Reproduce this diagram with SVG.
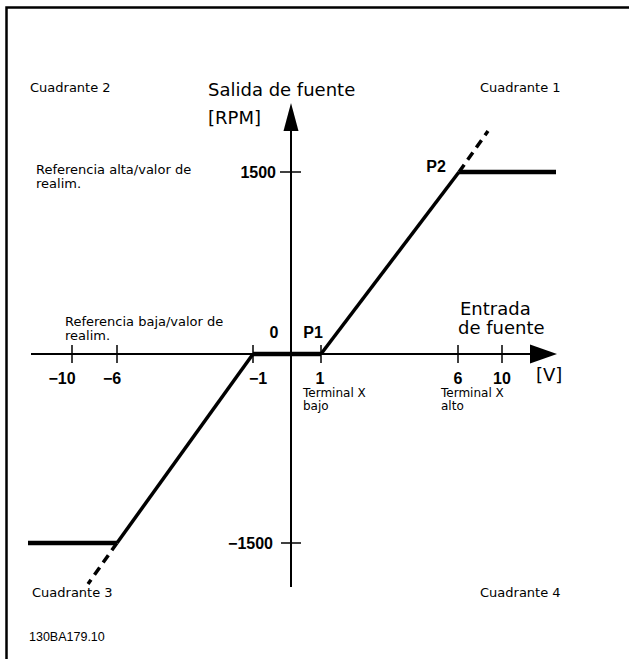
<svg xmlns="http://www.w3.org/2000/svg" width="629" height="659" viewBox="0 0 629 659">
<style>
.lbl{font-family:"DejaVu Sans","Verdana",sans-serif;font-size:13px;fill:#000}
.sm{font-family:"DejaVu Sans","Verdana",sans-serif;font-size:12px;fill:#000}
.big{font-family:"DejaVu Sans","Verdana",sans-serif;font-size:18px;fill:#000}
.num{font-family:"Liberation Sans",Arial,sans-serif;font-weight:bold;font-size:16px;fill:#000}
.pt{font-family:"Liberation Sans",Arial,sans-serif;font-weight:bold;font-size:16px;fill:#000}
.code{font-family:"Liberation Sans",Arial,sans-serif;font-size:12.5px;fill:#000}
.ax{stroke:#000;stroke-width:2;fill:none}
.tk{stroke:#000;stroke-width:1.5;fill:none}
.thick{stroke:#000;stroke-width:4.5;fill:none}
.slope{stroke:#000;stroke-width:3.5;fill:none}
.dash{stroke:#000;stroke-width:3.5;fill:none;stroke-dasharray:9 6}
</style>
<rect width="629" height="659" fill="#fff"/>
<g id="frame"><path d="M6.5 659 V7.5 H629" stroke="#000" stroke-width="2.5" fill="none"/></g>
<g id="connectors">
<g id="y-axis"><line class="ax" x1="291" y1="587" x2="291" y2="128"/><polygon points="291,103 283.5,131 298.5,131"/></g>
<g id="x-axis"><line class="ax" x1="31" y1="354" x2="532" y2="354"/><polygon points="557,354 530,344.5 530,363.5"/></g>
<g id="ticks">
<line class="tk" x1="72" y1="345" x2="72" y2="363"/>
<line class="tk" x1="117" y1="345" x2="117" y2="363"/>
<line class="tk" x1="253" y1="345" x2="253" y2="363"/>
<line class="tk" x1="321" y1="345" x2="321" y2="363"/>
<line class="tk" x1="458" y1="345" x2="458" y2="363"/>
<line class="tk" x1="502" y1="345" x2="502" y2="363"/>
<line class="tk" x1="280" y1="172" x2="301" y2="172"/>
<line class="tk" x1="281" y1="543" x2="301" y2="543"/>
</g>
<g id="curve">
<line class="thick" x1="459" y1="172" x2="556" y2="172"/>
<line class="slope" x1="321" y1="354" x2="459" y2="172"/>
<line class="dash" x1="459" y1="172" x2="488" y2="131"/>
<line class="thick" x1="253" y1="354" x2="321" y2="354"/>
<line class="slope" x1="253" y1="354" x2="117" y2="543"/>
<line class="thick" x1="28" y1="543" x2="117" y2="543"/>
<line class="dash" x1="117" y1="543" x2="88" y2="584"/>
</g>
</g>
<g id="quadrants">
<text class="lbl" x="30" y="92">Cuadrante 2</text>
<text class="lbl" x="480" y="92">Cuadrante 1</text>
<text class="lbl" x="32" y="597">Cuadrante 3</text>
<text class="lbl" x="480" y="597">Cuadrante 4</text>
</g>
<g id="y-title">
<text class="big" x="208" y="96">Salida de fuente</text>
<text class="big" x="208" y="124">[RPM]</text>
</g>
<g id="x-title">
<text class="big" x="460" y="315">Entrada</text>
<text class="big" x="458" y="334">de fuente</text>
<text class="big" x="536" y="381">[V]</text>
</g>
<g id="ref-high"><text class="lbl" x="36" y="174">Referencia alta/valor de</text><text class="lbl" x="36" y="188">realim.</text></g>
<g id="ref-low"><text class="lbl" x="65" y="326">Referencia baja/valor de</text><text class="lbl" x="65" y="340">realim.</text></g>
<g id="term-low"><text class="sm" x="303" y="397">Terminal X</text><text class="sm" x="303" y="410">bajo</text></g>
<g id="term-high"><text class="sm" x="441" y="397">Terminal X</text><text class="sm" x="441" y="410">alto</text></g>
<g id="y-values">
<text class="num" x="276" y="178" text-anchor="end">1500</text>
<text class="num" x="273" y="549" text-anchor="end">−1500</text>
</g>
<g id="x-values">
<text class="num" x="62" y="384" text-anchor="middle">−10</text>
<text class="num" x="112" y="384" text-anchor="middle">−6</text>
<text class="num" x="258" y="384" text-anchor="middle">−1</text>
<text class="num" x="320" y="384" text-anchor="middle">1</text>
<text class="num" x="458" y="384" text-anchor="middle">6</text>
<text class="num" x="502" y="384" text-anchor="middle">10</text>
</g>
<g id="points">
<text class="pt" x="274" y="338" text-anchor="middle">0</text>
<text class="pt" x="313" y="338" text-anchor="middle">P1</text>
<text class="pt" x="436" y="172" text-anchor="middle">P2</text>
</g>
<g id="code"><text class="code" x="29" y="641">130BA179.10</text></g>
</svg>
